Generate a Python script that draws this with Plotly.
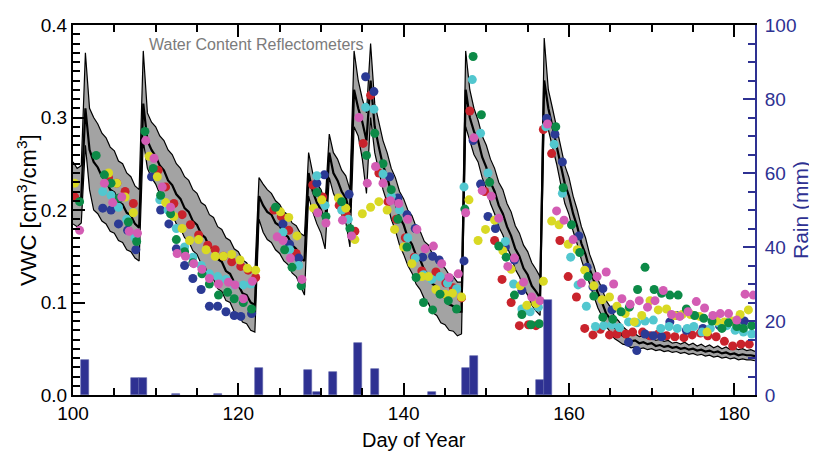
import plotly.graph_objects as go

# ---------------- data ----------------
band_day = [100.0,100.5,101.0,101.5,102.0,102.5,103.0,103.5,104.0,104.5,105.0,105.5,106.0,106.5,107.0,107.5,108.0,108.5,109.0,109.5,
            110.0,110.5,111.0,111.5,112.0,112.5,113.0,113.5,114.0,114.5,115.0,115.5,116.0,116.5,117.0,117.5,118.0,118.5,119.0,119.5,
            120.0,120.5,121.0,121.5,122.0,122.5,123.0,123.5,124.0,124.5,125.0,125.5,126.0,126.5,127.0,127.5,128.0,128.5,129.0,129.5,
            130.0,130.5,131.0,131.5,132.0,132.5,133.0,133.5,134.0,134.5,135.0,135.5,136.0,136.5,137.0,137.5,138.0,138.5,139.0,139.5,
            140.0,140.5,141.0,141.5,142.0,142.5,143.0,143.5,144.0,144.5,145.0,145.5,146.0,146.5,147.0,147.5,148.0,148.5,149.0,149.5,
            150.0,150.5,151.0,151.5,152.0,152.5,153.0,153.5,154.0,154.5,155.0,155.5,156.0,156.5,157.0,157.5,158.0,158.5,159.0,159.5,
            160.0,160.5,161.0,161.5,162.0,162.5,163.0,163.5,164.0,164.5,165.0,165.5,166.0,166.5,167.0,167.5,168.0,168.5,169.0,169.5,
            170.0,170.5,171.0,171.5,172.0,172.5,173.0,173.5,174.0,174.5,175.0,175.5,176.0,176.5,177.0,177.5,178.0,178.5,179.0,179.5,
            180.0,180.5,181.0,181.5,182.0,182.5]
band_upper = [.252,.245,.248,.370,.310,.300,.293,.283,.278,.268,.264,.253,.250,.240,.236,.226,.222,.372,.305,.295,
              .290,.280,.275,.265,.260,.250,.245,.236,.232,.222,.218,.208,.205,.195,.192,.182,.179,.170,.167,.158,
              .155,.146,.143,.135,.132,.235,.228,.222,.218,.210,.206,.198,.195,.186,.183,.175,.172,.262,.240,.228,
              .222,.208,.282,.262,.255,.243,.237,.222,.372,.340,.320,.305,.380,.315,.295,.275,.262,.245,.235,.220,
              .212,.200,.194,.182,.177,.166,.162,.152,.148,.140,.137,.130,.128,.122,.122,.372,.330,.310,.297,.280,
              .270,.255,.245,.230,.222,.207,.198,.183,.175,.162,.155,.143,.136,.128,.386,.330,.310,.290,.268,.248,
              .235,.215,.200,.182,.170,.152,.140,.125,.115,.102,.095,.085,.080,.074,.070,.066,.066,.063,.064,.061,
              .062,.059,.060,.058,.059,.056,.057,.055,.057,.054,.056,.053,.055,.052,.054,.051,.053,.050,.052,.049,
              .051,.049,.050,.048,.049,.047]
band_mean = [.215,.211,.214,.310,.265,.252,.246,.236,.232,.222,.219,.209,.206,.197,.194,.185,.181,.315,.275,.265,
             .258,.248,.243,.232,.227,.217,.212,.202,.198,.188,.184,.174,.170,.160,.157,.147,.144,.134,.131,.122,
             .119,.110,.108,.100,.097,.215,.205,.198,.195,.186,.183,.174,.171,.162,.158,.148,.145,.240,.220,.208,
             .200,.185,.262,.240,.232,.220,.213,.197,.330,.310,.295,.275,.340,.290,.268,.248,.236,.218,.208,.192,
             .184,.170,.163,.151,.146,.135,.130,.120,.117,.108,.105,.098,.096,.090,.090,.330,.300,.285,.275,.257,
             .246,.230,.220,.205,.196,.182,.172,.158,.150,.137,.130,.118,.112,.105,.340,.310,.290,.270,.248,.228,
             .215,.196,.182,.164,.152,.136,.124,.110,.100,.088,.082,.073,.069,.064,.062,.058,.059,.056,.057,.055,
             .056,.053,.054,.052,.053,.051,.052,.050,.051,.049,.050,.048,.049,.047,.048,.046,.047,.045,.046,.044,
             .045,.043,.044,.043,.043,.042]
band_lower = [.185,.182,.186,.270,.222,.200,.196,.188,.185,.177,.175,.167,.165,.157,.155,.148,.145,.275,.245,.235,
              .228,.217,.211,.200,.195,.185,.180,.170,.166,.156,.152,.142,.138,.128,.125,.115,.112,.102,.100,.090,
              .088,.079,.077,.070,.068,.190,.176,.168,.165,.157,.153,.145,.141,.132,.128,.118,.108,.215,.198,.185,
              .175,.158,.235,.218,.208,.195,.187,.160,.290,.280,.255,.218,.300,.262,.240,.222,.208,.190,.178,.162,
              .152,.140,.132,.120,.114,.104,.099,.089,.086,.078,.076,.070,.069,.064,.066,.290,.275,.260,.252,.235,
              .223,.207,.196,.182,.173,.160,.150,.136,.128,.116,.108,.097,.091,.086,.300,.287,.268,.250,.228,.207,
              .195,.177,.163,.146,.133,.120,.108,.094,.085,.074,.068,.061,.058,.055,.054,.051,.052,.050,.051,.049,
              .050,.048,.049,.047,.048,.046,.047,.045,.046,.044,.045,.043,.044,.042,.043,.041,.042,.040,.041,.039,
              .040,.038,.039,.038,.038,.037]

red_day = [100.2,104.3,105.3,106.3,107.3,110.3,111.2,112.2,113.2,114.2,115.2,116.3,117.2,118.2,119.2,120.3,121.2,122.1,124.3,125.2,
           126.1,127.0,129.0,130.2,132.2,133.0,134.1,135.1,136.0,137.0,138.1,139.1,140.2,141.3,142.2,143.9,145.1,146.0,147.0,148.0,
           149.8,151.0,151.9,153.0,154.0,155.1,156.0,156.9,157.9,158.9,159.9,160.9,161.9,162.9,163.8,164.9,165.8,166.9,167.7,168.9,
           169.8,170.8,171.8,172.8,173.9,174.9,175.9,176.8,177.8,178.8,179.8,180.8,181.8]
red_vwc = [.214,.235,.229,.220,.207,.243,.225,.207,.195,.184,.173,.162,.157,.150,.144,.139,.135,.127,.200,.193,
           .178,.153,.227,.214,.205,.196,.177,.272,.324,.240,.209,.190,.170,.149,.134,.133,.121,.116,.105,.307,
           .220,.167,.125,.100,.075,.076,.075,.287,.261,.167,.128,.106,.072,.065,.071,.065,.066,.066,.068,.068,
           .064,.066,.064,.063,.062,.065,.067,.064,.063,.058,.053,.055,.055]

yellow_day = [100.2,104.3,105.3,106.3,107.3,109.2,110.2,111.2,112.2,113.2,114.1,115.2,116.1,117.2,118.2,119.2,120.2,121.1,122.1,125.1,
              126.1,127.1,129.1,130.1,132.1,133.0,134.1,135.0,136.0,137.0,138.0,138.9,140.0,141.0,142.2,143.0,143.9,145.0,145.9,147.0,
              147.9,149.0,149.9,151.0,152.0,153.0,154.1,154.9,156.0,156.9,157.9,158.8,159.9,161.0,161.9,163.0,164.0,164.9,165.8,166.8,
              167.9,168.8,169.8,170.8,171.8,172.8,173.7,174.7,175.8,176.7,177.8,178.8,179.8,180.7,181.7]
yellow_vwc = [.229,.240,.229,.214,.197,.258,.236,.208,.193,.180,.167,.168,.157,.150,.150,.152,.146,.137,.135,.198,
              .192,.172,.202,.211,.213,.202,.168,.196,.203,.209,.200,.179,.160,.142,.128,.128,.114,.109,.110,.106,
              .211,.167,.179,.189,.156,.136,.118,.097,.099,.123,.188,.184,.163,.157,.135,.118,.103,.106,.096,.088,
              .079,.086,.102,.092,.093,.086,.087,.087,.085,.068,.080,.079,.080,.087,.092]

green_day = [100.8,102.8,103.8,104.6,105.6,106.7,107.7,108.7,109.7,110.6,111.8,112.5,113.5,114.5,115.6,116.5,117.6,118.7,119.5,120.6,
             121.6,124.5,125.6,126.5,127.6,129.5,130.6,132.5,133.5,135.5,136.5,137.5,138.5,139.3,140.4,141.5,142.4,143.5,144.4,145.4,
             146.4,147.4,148.4,149.4,150.4,151.5,152.4,153.4,154.3,155.4,156.4,158.4,159.3,160.3,161.3,162.3,163.0,164.1,165.3,166.3,
             167.3,168.3,169.2,170.3,171.2,172.2,173.2,174.2,175.2,176.3,177.3,178.5,179.3,180.3,181.1,182.1]
green_vwc = [.209,.259,.238,.229,.213,.187,.166,.285,.245,.216,.196,.168,.155,.143,.131,.120,.108,.111,.104,.100,
             .093,.203,.157,.138,.118,.219,.193,.209,.180,.259,.283,.250,.222,.190,.160,.127,.100,.092,.109,.102,
             .093,.201,.366,.303,.230,.161,.149,.108,.087,.076,.077,.290,.224,.184,.154,.128,.107,.084,.082,.090,
             .095,.114,.138,.114,.110,.108,.108,.093,.086,.083,.080,.072,.078,.074,.072,.075]

magenta_day = [100.8,103.8,104.8,105.9,106.8,107.8,108.8,109.8,110.8,111.8,112.6,113.6,114.6,115.6,116.5,117.6,118.8,119.6,120.6,121.7,
               124.7,125.4,126.3,127.7,129.6,130.6,132.6,133.7,134.6,135.6,136.6,137.5,138.4,139.4,140.5,141.6,142.6,143.6,144.6,145.5,
               146.6,147.5,148.5,149.5,150.6,151.5,152.6,153.4,154.5,155.5,156.5,157.4,158.5,159.4,160.5,161.5,163.4,164.5,165.4,166.4,
               167.4,168.5,169.5,170.4,171.4,172.4,173.4,174.4,175.4,176.4,177.4,178.3,179.3,180.3,181.3,182.3]
magenta_vwc = [.178,.229,.208,.214,.177,.175,.275,.256,.225,.203,.153,.150,.142,.136,.126,.120,.122,.119,.104,.123,
               .171,.167,.148,.125,.197,.186,.189,.172,.300,.229,.247,.229,.210,.207,.190,.179,.158,.161,.142,.127,
               .131,.197,.278,.221,.215,.191,.139,.148,.122,.106,.102,.293,.199,.189,.168,.121,.128,.133,.120,.104,
               .098,.102,.095,.102,.113,.087,.085,.090,.101,.094,.086,.088,.088,.081,.109,.108]

cyan_day = [103.6,104.6,105.5,106.5,107.5,110.5,111.5,112.5,113.5,114.5,115.5,116.5,117.5,118.5,119.5,120.6,121.5,125.4,126.2,127.3,
            129.5,130.5,132.5,133.3,135.4,136.4,137.5,138.5,139.5,140.5,141.4,142.4,143.4,144.4,145.3,146.4,147.3,148.3,149.3,150.2,
            151.3,152.3,153.3,154.3,155.3,156.3,157.2,158.2,159.2,160.2,161.1,162.1,163.2,164.2,165.2,166.1,167.2,168.2,169.2,170.2,
            171.1,172.1,173.1,174.3,175.1,176.1,177.1,178.1,179.1,180.1,181.1,182.1]
cyan_vwc = [.220,.216,.203,.190,.170,.211,.200,.180,.160,.149,.140,.131,.128,.125,.119,.119,.120,.176,.157,.140,
            .237,.205,.200,.190,.311,.309,.239,.215,.200,.170,.148,.130,.125,.128,.121,.115,.225,.341,.283,.240,
            .190,.166,.120,.093,.090,.095,.290,.271,.218,.149,.119,.096,.074,.075,.076,.073,.079,.078,.080,.081,
            .072,.074,.072,.072,.074,.068,.072,.078,.075,.070,.068,.066]

blue_day = [103.6,104.6,105.5,106.6,107.6,109.5,110.6,111.6,112.5,113.5,114.5,115.5,116.5,117.5,118.5,119.5,120.3,121.6,125.4,126.2,
            127.3,129.5,130.4,133.4,135.4,136.4,138.3,139.3,140.4,141.4,142.3,143.5,144.3,145.5,147.3,148.4,149.3,150.2,151.1,152.3,
            153.4,154.3,157.3,158.3,159.2,161.2,162.2,162.9,164.1,165.2,167.2,168.2,169.2,170.2,171.2,172.2,173.0,174.2,176.2,178.2,
            180.2,181.2]
blue_vwc = [.202,.200,.185,.178,.157,.236,.200,.185,.158,.140,.126,.114,.096,.096,.090,.086,.085,.088,.185,.163,
            .148,.229,.238,.217,.344,.328,.236,.213,.195,.180,.149,.150,.146,.126,.145,.275,.228,.193,.180,.160,
            .146,.113,.299,.282,.252,.172,.138,.117,.115,.092,.057,.048,.066,.064,.063,.079,.086,.070,.072,.075,
            .078,.080]

rain_day = [101, 107, 108, 112, 117, 122, 128, 129, 131, 134, 136, 143, 147, 148, 156, 157]
rain_mm = [9.5, 4.5, 4.7, 0.4, 0.3, 7.4, 6.7, 0.7, 6.1, 14.0, 7.0, 0.9, 7.4, 10.5, 4.0, 25.7]

x_ticks = [100, 120, 140, 160, 180]
vwc_ticks = [0.0, 0.1, 0.2, 0.3, 0.4]
rain_ticks = [0, 20, 40, 60, 80, 100]

# ---------------- style ----------------
FONT = "Liberation Sans, Arial, Helvetica, sans-serif"
NAVY = "#2e3192"
dot_colors = {
    "red": "#c9232c",
    "blue": "#2b3a94",
    "cyan": "#52c7cf",
    "yellow": "#d9d924",
    "green": "#0c8a47",
    "magenta": "#d35cb4",
}
X_RANGE = [100, 182.5]

fig = go.Figure()

# rain bars (right axis)
fig.add_trace(go.Bar(x=rain_day, y=rain_mm, yaxis="y2", offset=0, width=0.97,
                     marker=dict(color=NAVY, line=dict(color="#5a5fa8", width=0.6)),
                     showlegend=False, hoverinfo="skip"))

# sensor envelope
fig.add_trace(go.Scatter(x=band_day, y=band_lower, mode="lines",
                         line=dict(color="black", width=1.2), showlegend=False))
fig.add_trace(go.Scatter(x=band_day, y=band_upper, mode="lines", fill="tonexty",
                         fillcolor="#a3a3a3", line=dict(color="black", width=1.2),
                         showlegend=False))
fig.add_trace(go.Scatter(x=band_day, y=band_mean, mode="lines",
                         line=dict(color="black", width=2.2), showlegend=False))

series = [("red", red_day, red_vwc), ("blue", blue_day, blue_vwc),
          ("cyan", cyan_day, cyan_vwc), ("yellow", yellow_day, yellow_vwc),
          ("green", green_day, green_vwc), ("magenta", magenta_day, magenta_vwc)]
for name, d, v in series:
    fig.add_trace(go.Scatter(x=d, y=v, mode="markers",
                             marker=dict(color=dot_colors[name], size=9, line=dict(width=0)),
                             showlegend=False))

# empty helper trace so the top (mirror) axis with its minor ticks is drawn
fig.add_trace(go.Scatter(x=[None], y=[None], xaxis="x2", yaxis="y", mode="markers",
                         showlegend=False, hoverinfo="skip"))

fig.add_annotation(x=108.9, y=0.379, xref="x", yref="y", text="Water Content Reflectometers",
                   showarrow=False, xanchor="left", yanchor="middle",
                   font=dict(family=FONT, size=16, color="#7b7b7b"))

# axis titles placed relative to the plot frame
fig.add_annotation(x=0.5, y=0, xref="paper", yref="paper", yshift=-45, text="Day of Year",
                   showarrow=False, xanchor="center", yanchor="middle",
                   font=dict(family=FONT, size=20, color="black"))
fig.add_annotation(x=0, y=0.5, xref="paper", yref="paper", xshift=-46,
                   text="VWC [cm<sup>3</sup>/cm<sup>3</sup>]", textangle=-90,
                   showarrow=False, xanchor="center", yanchor="middle",
                   font=dict(family=FONT, size=22, color="black"))
fig.add_annotation(x=1, y=0.5, xref="paper", yref="paper", xshift=45,
                   text="Rain (mm)", textangle=-90,
                   showarrow=False, xanchor="center", yanchor="middle",
                   font=dict(family=FONT, size=21, color=NAVY))

# the page adds an 8px body margin, so the figure is sized to fit inside it
fig.update_layout(
    width=809, height=458,
    margin=dict(l=65, r=62, t=17, b=71),
    paper_bgcolor="white", plot_bgcolor="white",
    font=dict(family=FONT, size=19, color="black"),
    bargap=0,
    xaxis=dict(range=X_RANGE, tickvals=x_ticks, ticks="inside", ticklen=12, tickwidth=2,
               tickcolor="black", showline=True, linewidth=2, linecolor="black", mirror=False,
               showgrid=False, zeroline=False, automargin=False,
               minor=dict(dtick=5, ticks="inside", ticklen=7, tickwidth=1.5, tickcolor="black"),
               tickfont=dict(size=19)),
    xaxis2=dict(range=X_RANGE, overlaying="x", side="top", anchor="y", tickvals=x_ticks,
                ticks="inside", ticklen=12, tickwidth=2, tickcolor="black",
                showline=True, linewidth=2, linecolor="black", showticklabels=False,
                showgrid=False, zeroline=False, automargin=False,
                minor=dict(dtick=5, ticks="inside", ticklen=7, tickwidth=1.5, tickcolor="black")),
    yaxis=dict(range=[0, 0.4], tickvals=vwc_ticks, tickformat=".1f", ticks="inside", ticklen=12,
               tickwidth=2, tickcolor="black", showline=True, linewidth=2, linecolor="black",
               showgrid=False, zeroline=False, automargin=False,
               minor=dict(dtick=0.01, ticks="inside", ticklen=7, tickwidth=1.5, tickcolor="black"),
               tickfont=dict(size=19)),
    yaxis2=dict(range=[0, 100], tickvals=rain_ticks, overlaying="y", side="right", ticks="inside",
                ticklen=12, tickwidth=2, tickcolor=NAVY, showline=True, linewidth=2, linecolor=NAVY,
                showgrid=False, zeroline=False, automargin=False, ticklabelstandoff=4,
                minor=dict(dtick=5, ticks="inside", ticklen=7, tickwidth=1.5, tickcolor=NAVY),
                tickfont=dict(size=19, color=NAVY)),
)

fig.write_html("out.html")
